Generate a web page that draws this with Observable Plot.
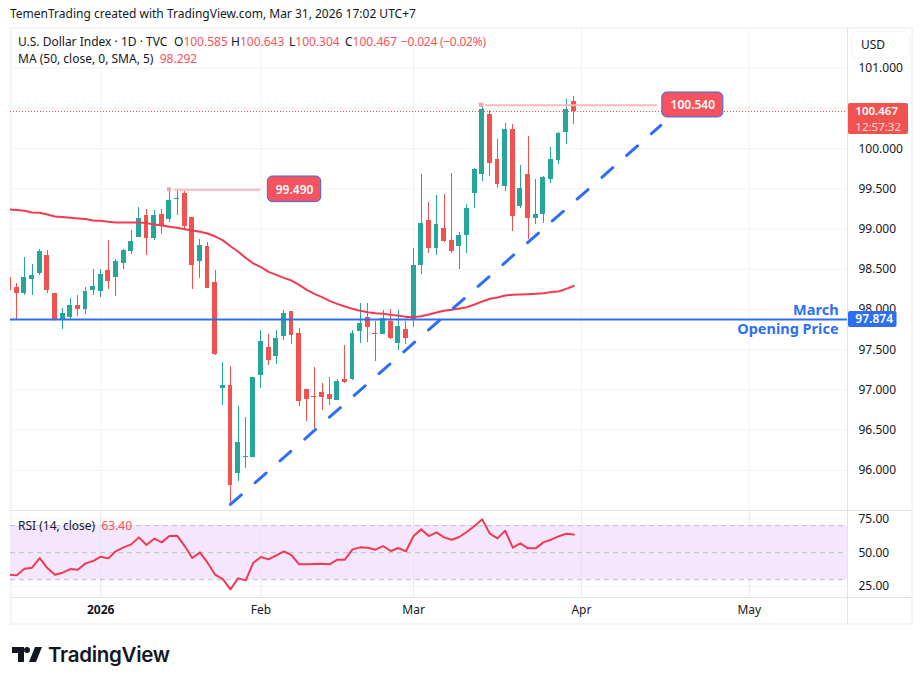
<!DOCTYPE html>
<html>
<head>
<meta charset="utf-8">
<script src="https://cdn.jsdelivr.net/npm/d3@7"></script>
<script src="https://cdn.jsdelivr.net/npm/@observablehq/plot@0.6"></script>
<style>
  html,body{margin:0;padding:0;background:#fff}
  #page{position:relative;width:923px;height:685px;overflow:hidden;font-family:"Noto Sans",sans-serif;color:#131722}
  #frame{position:absolute;left:10px;top:27px;width:899px;height:594px;border:2px solid #f4f4f5}
  #main,#rsi{position:absolute;left:0}
  #main{top:27px}
  #rsi{top:510px}
  .t{position:absolute;white-space:pre;font-size:12px;line-height:16px}
  .r{color:#f7525f}
  #usd{position:absolute;left:851px;top:31px;width:57px;height:25px;border:1px solid #f0f3fa;border-radius:6px;font-size:12px;line-height:25px;text-indent:9px;box-sizing:content-box}
  #logo{position:absolute;left:10px;top:641px}
  #brand{position:absolute;left:48px;top:638px;font-family:Inter,sans-serif;font-weight:600;font-size:20.5px;line-height:34px;color:#131722;letter-spacing:-.3px}
</style>
</head>
<body>
<div id="page">
  <div id="frame"></div>
  <div id="main"></div>
  <div id="rsi"></div>
  <div class="t" style="left:10px;top:6px">TemenTrading created with TradingView.com, Mar 31, 2026 17:02 UTC+7</div>
  <div class="t" style="left:18px;top:34px">U.S. Dollar Index · 1D · TVC</div>
  <div class="t" style="left:174px;top:34px">O<span class="r">100.585</span></div>
  <div class="t" style="left:231px;top:34px">H<span class="r">100.643</span></div>
  <div class="t" style="left:289px;top:34px">L<span class="r">100.304</span></div>
  <div class="t" style="left:345px;top:34px">C<span class="r">100.467</span></div>
  <div class="t r" style="left:401px;top:34px;letter-spacing:-.25px">−0.024 (−0.02%)</div>
  <div class="t" style="left:18px;top:51px">MA (50, close, 0, SMA, 5)  <span class="r">98.292</span></div>
  <div class="t" style="left:18px;top:518px">RSI (14, close)  <span class="r">63.40</span></div>
  <div id="usd">USD</div>
  <svg id="logo" width="36" height="28" viewBox="0 0 36 28"><path fill="#131722" d="M14 6H2v6h6v9h6V6zm12 15h-7l6-15h7l-6 15zm-9-9a3 3 0 1 0 0-6 3 3 0 0 0 0 6z"/></svg>
  <div id="brand">TradingView</div>
</div>
<script>
// Session index -1 is the bar clipped by the left edge; index 73 is Mar 31, 2026.
const firstSession = -1;
const opens = [98.402,98.274,98.199,98.373,98.448,98.672,98.199,97.876,97.901,98.050,98.000,98.236,98.224,98.485,98.398,98.572,98.722,98.896,99.169,98.883,99.182,99.120,99.368,99.443,99.144,98.597,98.784,98.336,97.017,97.054,95.960,96.159,96.159,97.179,97.527,97.415,97.664,97.975,97.701,97.004,96.917,96.967,96.942,96.868,97.129,97.129,97.726,97.900,97.701,97.689,97.850,97.577,97.751,97.876,98.547,99.107,98.759,99.008,98.858,98.784,98.921,99.443,99.679,100.425,99.866,99.530,100.239,99.281,99.679,99.132,99.182,99.617,99.853,100.202,100.585];
const highs = [98.450,98.319,98.643,98.560,98.742,98.734,98.199,98.013,98.137,98.174,98.274,98.498,98.498,98.858,98.622,98.746,98.983,99.269,99.244,99.231,99.244,99.493,99.480,99.468,99.144,98.871,98.833,98.485,97.340,97.290,96.793,96.656,97.154,97.738,97.689,97.738,97.987,97.975,97.763,97.004,97.278,97.079,97.154,97.129,97.552,97.738,98.074,98.074,97.850,97.987,98.000,97.987,97.850,98.759,99.679,99.331,99.418,99.430,99.692,98.958,99.306,99.754,100.537,100.475,100.115,100.314,100.301,99.791,100.152,99.617,99.654,100.015,100.202,100.612,100.643];
const lows = [98.200,97.876,98.174,98.174,98.423,98.199,97.851,97.751,97.876,97.913,97.938,98.174,98.149,98.249,98.162,98.498,98.684,98.896,98.672,98.858,98.933,99.082,99.169,98.995,98.249,98.386,98.261,97.428,96.805,95.574,95.860,96.022,96.159,97.017,97.303,97.315,97.614,97.564,96.793,96.606,96.519,96.743,96.805,96.868,97.079,97.116,97.577,97.589,97.353,97.689,97.626,97.490,97.564,97.776,98.435,98.697,98.672,98.833,98.697,98.498,98.697,99.256,99.592,99.654,99.505,99.468,98.970,99.256,98.871,99.057,99.070,99.567,99.804,100.052,100.304];
const closes = [98.236,98.199,98.398,98.423,98.722,98.236,97.876,97.950,98.050,98.000,98.224,98.286,98.435,98.348,98.597,98.734,98.846,99.132,98.883,99.169,99.045,99.356,99.381,99.032,98.547,98.796,98.261,97.440,97.054,95.810,96.345,96.171,97.154,97.601,97.365,97.639,97.950,97.676,96.855,96.880,96.905,96.905,96.880,97.104,97.092,97.701,97.825,97.776,97.689,97.883,97.639,97.788,97.639,98.547,99.070,98.759,99.057,98.846,98.721,98.921,99.256,99.741,100.488,99.816,99.555,100.239,99.157,99.505,99.132,99.182,99.642,99.866,100.189,100.488,100.467];
const ma50 = [99.244,99.236,99.227,99.207,99.202,99.182,99.157,99.149,99.140,99.132,99.124,99.107,99.103,99.090,99.082,99.082,99.082,99.082,99.074,99.057,99.045,99.028,99.016,98.999,98.983,98.966,98.945,98.908,98.860,98.787,98.721,98.642,98.572,98.526,98.468,98.431,98.393,98.360,98.306,98.244,98.194,98.153,98.107,98.070,98.037,98.008,97.983,97.966,97.954,97.946,97.933,97.925,97.908,97.905,97.917,97.938,97.963,97.983,97.996,98.012,98.029,98.062,98.100,98.133,98.149,98.174,98.182,98.187,98.191,98.195,98.203,98.216,98.224,98.257,98.292];
const rsi14 = [33.68,33.19,38.13,38.87,46.03,38.62,33.68,35.17,37.88,37.39,42.08,43.81,47.02,45.78,51.22,53.93,56.15,61.34,55.66,60.35,57.63,62.33,62.57,54.92,46.03,50.23,42.57,33.68,30.47,22.82,30.97,29.49,42.57,46.77,45.04,48.00,50.97,48.25,41.34,41.34,41.59,41.83,41.34,44.80,44.80,52.45,53.93,53.68,52.20,54.92,51.22,53.44,51.01,62.33,67.26,62.33,65.04,61.34,59.61,61.58,65.53,69.73,74.67,64.05,60.60,66.28,53.68,56.89,53.19,53.19,57.63,59.61,62.08,64.05,63.40];

const timeTickAt = [11, 32, 52, 74, 96];
const timeTickLabels = ["2026", "Feb", "Mar", "Apr", "May"];
const priceGrid = [96, 96.5, 97, 97.5, 98, 98.5, 99, 99.5, 100, 100.5, 101];
const priceTicks = [96, 96.5, 97, 97.5, 98, 98.5, 99, 99.5, 100, 101];
const rsiTicks = [25, 50, 75];
const rsiLevels = [30, 50, 70];

const lastClose = 100.467;
const marchOpen = 97.874;
const trendSessions = [28, 84.4];
const trendPrices = [95.575, 100.289];
const peakLabels = [
  {text: "99.490", y: 99.49, lineFrom: 20.7, lineTo: 32, mark1: 19.75, mark2: 20.25, box1: 32.9, box2: 39.9, top: 99.654, bottom: 99.335},
  {text: "100.540", y: 100.54, lineFrom: 61.4, lineTo: 84, mark1: 60.6, mark2: 61.2, box1: 84.6, box2: 92.6, top: 100.699, bottom: 100.388}
];

const GREEN = "#26a69a", RED = "#f0524f", MA = "#f23a51", BLUE = "#2e6ff2", TAG = "#f7525f", PINK = "#f9b8bc";
const GRID = "#f2f3f6", EDGE = "#e0e3eb", INK = "#131722";
const FONT = '"Noto Sans", sans-serif';

const candles = opens.map((o, i) => ({i: i + firstSession, o, h: highs[i], l: lows[i], c: closes[i]}));
const xDomain = [-0.826, 108.87];
const plotBase = {width: 923, marginLeft: 10, marginRight: 76, marginTop: 0, style: {background: "transparent", fontFamily: FONT, fontSize: "12px", overflow: "visible"}};

const main = Plot.plot({
  ...plotBase,
  height: 483,
  marginBottom: 0,
  x: {domain: xDomain, axis: null},
  y: {domain: [95.5, 101.507], axis: null},
  marks: [
    Plot.ruleX(timeTickAt, {stroke: GRID, strokeWidth: 1}),
    Plot.ruleY(priceGrid, {stroke: GRID, strokeWidth: 1}),
    Plot.axisY({anchor: "right", ticks: priceTicks, tickSize: 0, tickPadding: 11, tickFormat: d3.format(".3f"), fill: INK, label: null, fontSize: 12}),
    Plot.ruleX([0], {x: () => xDomain[1], stroke: EDGE}),
    Plot.ruleY([lastClose], {stroke: RED, strokeWidth: 1, strokeDasharray: "1 2", shapeRendering: "crispEdges"}),
    Plot.ruleX(candles, {x: "i", y1: "l", y2: "h", stroke: d => d.c >= d.o ? GREEN : RED, strokeWidth: 1, clip: "frame", shapeRendering: "crispEdges"}),
    Plot.rect(candles, {x1: d => d.i - 0.32, x2: d => d.i + 0.32, y1: d => Math.min(d.o, d.c), y2: d => Math.max(d.o, d.c), fill: d => d.c >= d.o ? GREEN : RED, clip: "frame", shapeRendering: "crispEdges"}),
    Plot.line(ma50, {x: (d, i) => i + firstSession, y: d => d, stroke: MA, strokeWidth: 2, clip: "frame", curve: "linear"}),
    Plot.ruleY([marchOpen], {stroke: BLUE, strokeWidth: 2}),
    Plot.line(trendSessions, {x: d => d, y: (d, i) => trendPrices[i], stroke: BLUE, strokeWidth: 3, strokeDasharray: "14.5 18.5"}),
    Plot.ruleY(peakLabels, {y: "y", x1: "lineFrom", x2: "lineTo", stroke: PINK, strokeWidth: 2}),
    Plot.rect(peakLabels, {x1: "mark1", x2: "mark2", y1: d => d.y - 0.025, y2: d => d.y + 0.025, fill: "#f8a0a5"}),
    Plot.rect(peakLabels, {x1: "box1", x2: "box2", y1: "bottom", y2: "top", fill: TAG, stroke: BLUE, strokeWidth: 1, rx: 5}),
    Plot.text(peakLabels, {x: d => (d.box1 + d.box2) / 2, y: "y", text: "text", fill: "#fff", fontWeight: 600, fontSize: 12}),
    Plot.text(["March"], {x: () => 107.7, y: () => 97.985, text: d => d, textAnchor: "end", fill: BLUE, fontWeight: 700, fontSize: 14.5}),
    Plot.text(["Opening Price"], {x: () => 107.7, y: () => 97.755, text: d => d, textAnchor: "end", fill: BLUE, fontWeight: 700, fontSize: 14.5}),
    Plot.rect([0], {x1: () => 109, x2: () => 116.87, y1: () => 100.177, y2: () => 100.562, fill: "#f0524f", rx: 2}),
    Plot.text(["100.467"], {x: () => 109.9, y: () => 100.46, text: d => d, textAnchor: "start", fill: "#fff", fontWeight: 600, fontSize: 11.5}),
    Plot.text(["12:57:32"], {x: () => 109.9, y: () => 100.265, text: d => d, textAnchor: "start", fill: "#ffd9d9", fontSize: 11.5}),
    Plot.rect([0], {x1: () => 109, x2: () => 115.36, y1: () => 97.776, y2: () => 97.975, fill: "#2e6ff2", rx: 2}),
    Plot.text(["97.874"], {x: () => 109.9, y: () => marchOpen, text: d => d, textAnchor: "start", fill: "#fff", fontWeight: 600, fontSize: 12})
  ]
});
document.getElementById("main").append(main);

const rsiPlot = Plot.plot({
  ...plotBase,
  height: 115,
  marginBottom: 28,
  x: {domain: xDomain, axis: null},
  y: {domain: [16.8, 81.24], axis: null},
  marks: [
    Plot.rect([0], {x1: () => xDomain[0], x2: () => xDomain[1], y1: () => rsiLevels[0], y2: () => rsiLevels[2], fill: "#f3e6fd"}),
    Plot.ruleX(timeTickAt, {stroke: "#e9e6ef", strokeWidth: 1}),
    Plot.ruleY(rsiTicks, {stroke: GRID, strokeWidth: 1}),
    Plot.ruleY(rsiLevels, {stroke: "#bdbdc4", strokeWidth: 1, strokeDasharray: "5 4"}),
    Plot.axisY({anchor: "right", ticks: rsiTicks, tickSize: 0, tickPadding: 11, tickFormat: d3.format(".2f"), fill: INK, label: null, fontSize: 12}),
    Plot.axisX({anchor: "bottom", ticks: timeTickAt.slice(1), tickSize: 0, tickPadding: 8, tickFormat: d => timeTickLabels[timeTickAt.indexOf(d)], fill: INK, label: null, fontSize: 12}),
    Plot.axisX({anchor: "bottom", ticks: timeTickAt.slice(0, 1), tickSize: 0, tickPadding: 8, tickFormat: d => timeTickLabels[timeTickAt.indexOf(d)], fill: INK, label: null, fontSize: 12, fontWeight: 700}),
    Plot.line(rsi14, {x: (d, i) => i + firstSession, y: d => d, stroke: MA, strokeWidth: 2, clip: "frame"}),
    Plot.ruleX([0], {x: () => xDomain[1], y1: -3.94, y2: 81.24, stroke: EDGE}),
    Plot.ruleY([16.8, 81.24], {stroke: EDGE, strokeWidth: 1, x1: xDomain[0], x2: 117.4})
  ]
});
document.getElementById("rsi").append(rsiPlot);
</script>
</body>
</html>
